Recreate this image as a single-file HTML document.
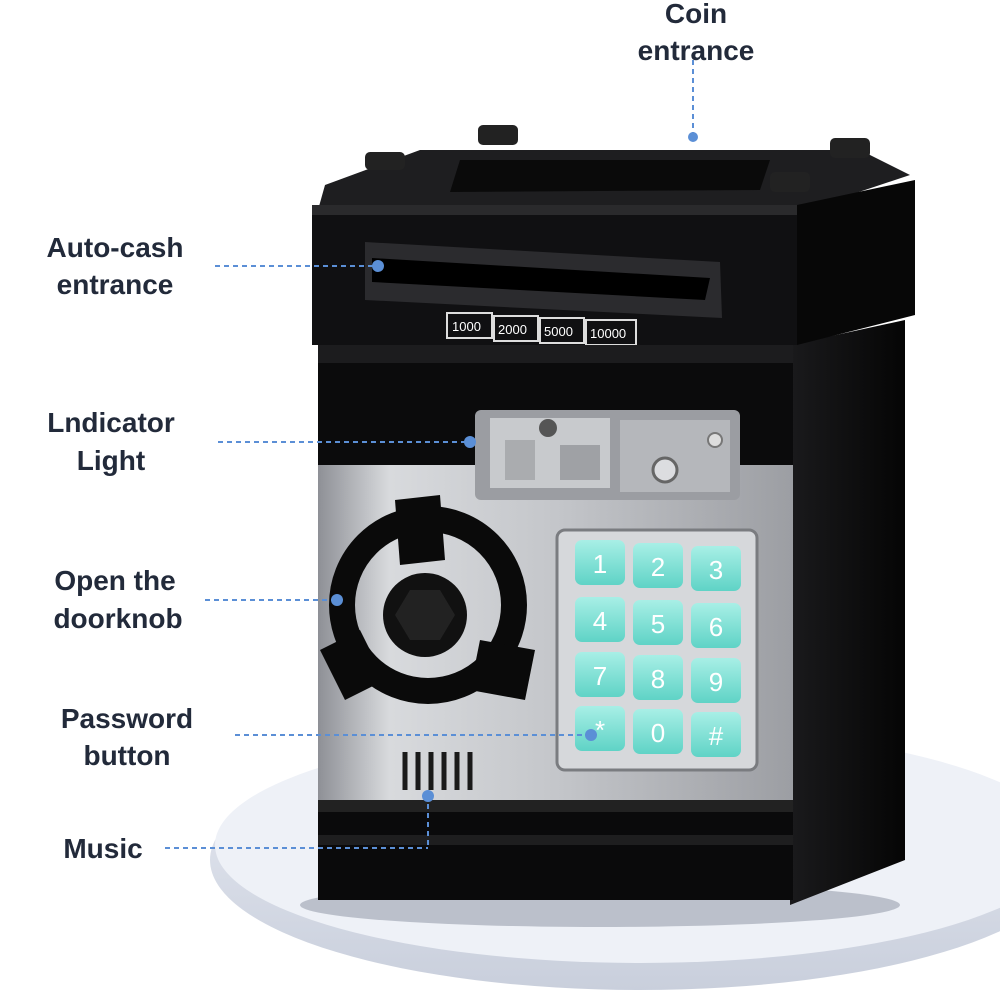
<!DOCTYPE html>
<html><head><meta charset="utf-8"><style>
html,body{margin:0;padding:0;background:#fff;}
svg{display:block;}
text{font-family:"Liberation Sans",sans-serif;}
</style></head><body>
<svg width="1000" height="1000" viewBox="0 0 1000 1000" xmlns="http://www.w3.org/2000/svg">
<defs>
<linearGradient id="ped" x1="0" y1="0" x2="0" y2="1"><stop offset="0" stop-color="#e9ecf4"/><stop offset="1" stop-color="#c9cfdc"/></linearGradient>
<linearGradient id="silver" x1="0" y1="0" x2="1" y2="0"><stop offset="0" stop-color="#8e9096"/><stop offset="0.15" stop-color="#d8dadd"/><stop offset="0.5" stop-color="#c4c6ca"/><stop offset="1" stop-color="#9c9ea3"/></linearGradient>
<linearGradient id="side" x1="0" y1="0" x2="1" y2="0"><stop offset="0" stop-color="#1a1a1c"/><stop offset="1" stop-color="#050505"/></linearGradient>
<linearGradient id="btn" x1="0" y1="0" x2="0" y2="1"><stop offset="0" stop-color="#a8efe6"/><stop offset="1" stop-color="#5fd3c6"/></linearGradient>
</defs>
<ellipse cx="640" cy="860" rx="430" ry="130" fill="url(#ped)"/>
<ellipse cx="640" cy="845" rx="425" ry="118" fill="#eef1f7"/>
<ellipse cx="600" cy="905" rx="300" ry="22" fill="#9aa0ad" opacity="0.6"/>
<polygon points="790,345 905,320 905,860 790,905" fill="url(#side)"/>
<rect x="318" y="340" width="475" height="560" fill="#0b0b0c"/>
<polygon points="325,185 420,150 860,150 910,175 790,215 318,210" fill="#1e1e20"/>
<polygon points="460,160 770,160 760,190 450,192" fill="#0a0a0a"/>
<rect x="365" y="152" width="40" height="18" rx="5" fill="#222"/>
<rect x="478" y="125" width="40" height="20" rx="5" fill="#222"/>
<rect x="830" y="138" width="40" height="20" rx="5" fill="#222"/>
<rect x="770" y="172" width="40" height="20" rx="5" fill="#222"/>
<rect x="312" y="205" width="485" height="140" fill="#101012"/>
<polygon points="797,205 915,180 915,315 797,345" fill="#070707"/>
<rect x="312" y="205" width="485" height="10" fill="#2a2a2c"/>
<polygon points="365,242 720,262 722,318 365,300" fill="#2b2b2e"/>
<polygon points="372,258 710,278 705,300 372,282" fill="#000"/>
<g font-size="13" fill="#fff">
<rect x="447" y="313" width="45" height="25" fill="none" stroke="#ddd" stroke-width="2"/><text x="452" y="331">1000</text>
<rect x="494" y="316" width="44" height="25" fill="none" stroke="#ddd" stroke-width="2"/><text x="498" y="334">2000</text>
<rect x="540" y="318" width="44" height="25" fill="none" stroke="#ddd" stroke-width="2"/><text x="544" y="336">5000</text>
<rect x="586" y="320" width="50" height="25" fill="none" stroke="#ddd" stroke-width="2"/><text x="590" y="338">10000</text>
</g>
<rect x="318" y="345" width="475" height="18" fill="#1c1c1e"/>
<rect x="318" y="465" width="475" height="335" fill="url(#silver)"/>
<!-- indicator panel drawn over silver -->
<rect x="475" y="410" width="265" height="90" rx="6" fill="#9b9da2"/>
<rect x="490" y="418" width="120" height="70" fill="#c8cacd"/>
<rect x="620" y="420" width="110" height="72" fill="#b5b7bb"/>
<rect x="505" y="440" width="30" height="40" fill="#aaacaf"/>
<rect x="560" y="445" width="40" height="35" fill="#9fa1a5"/>
<circle cx="548" cy="428" r="9" fill="#555"/>
<circle cx="665" cy="470" r="12" fill="#dcdde0" stroke="#666" stroke-width="3"/>
<circle cx="715" cy="440" r="7" fill="#ddd" stroke="#777" stroke-width="2"/>
<rect x="557" y="530" width="200" height="240" rx="8" fill="#d6d8db" stroke="#7a7c80" stroke-width="3"/>
<g font-size="26" fill="#fff" text-anchor="middle">
<rect x="575" y="540" width="50" height="45" rx="7" fill="url(#btn)"/><text x="600" y="573">1</text>
<rect x="633" y="543" width="50" height="45" rx="7" fill="url(#btn)"/><text x="658" y="576">2</text>
<rect x="691" y="546" width="50" height="45" rx="7" fill="url(#btn)"/><text x="716" y="579">3</text>
<rect x="575" y="597" width="50" height="45" rx="7" fill="url(#btn)"/><text x="600" y="630">4</text>
<rect x="633" y="600" width="50" height="45" rx="7" fill="url(#btn)"/><text x="658" y="633">5</text>
<rect x="691" y="603" width="50" height="45" rx="7" fill="url(#btn)"/><text x="716" y="636">6</text>
<rect x="575" y="652" width="50" height="45" rx="7" fill="url(#btn)"/><text x="600" y="685">7</text>
<rect x="633" y="655" width="50" height="45" rx="7" fill="url(#btn)"/><text x="658" y="688">8</text>
<rect x="691" y="658" width="50" height="45" rx="7" fill="url(#btn)"/><text x="716" y="691">9</text>
<rect x="575" y="706" width="50" height="45" rx="7" fill="url(#btn)"/><text x="600" y="739">*</text>
<rect x="633" y="709" width="50" height="45" rx="7" fill="url(#btn)"/><text x="658" y="742">0</text>
<rect x="691" y="712" width="50" height="45" rx="7" fill="url(#btn)"/><text x="716" y="745">#</text>
</g>
<circle cx="428" cy="605" r="86" fill="none" stroke="#0a0a0a" stroke-width="26"/>
<polygon points="395,500 440,495 445,560 400,565" fill="#0a0a0a"/>
<polygon points="320,650 360,630 385,680 345,700" fill="#0a0a0a"/>
<polygon points="480,640 535,650 525,700 470,690" fill="#0a0a0a"/>
<circle cx="425" cy="615" r="42" fill="#111"/>
<polygon points="410,590 440,590 455,615 440,640 410,640 395,615" fill="#222"/>
<rect x="318" y="800" width="475" height="100" fill="#0a0a0b"/>
<rect x="318" y="800" width="475" height="12" fill="#222"/>
<rect x="318" y="835" width="475" height="10" fill="#1e1e1f"/>
<g stroke="#1a1a1a" stroke-width="5"><line x1="405" y1="752" x2="405" y2="790"/><line x1="418" y1="752" x2="418" y2="790"/><line x1="431" y1="752" x2="431" y2="790"/><line x1="444" y1="752" x2="444" y2="790"/><line x1="457" y1="752" x2="457" y2="790"/><line x1="470" y1="752" x2="470" y2="790"/></g>
<g stroke="#5b8fd6" stroke-width="2" stroke-dasharray="5,4" fill="none">
<line x1="693" y1="60" x2="693" y2="135"/>
<line x1="215" y1="266" x2="375" y2="266"/>
<line x1="218" y1="442" x2="468" y2="442"/>
<line x1="205" y1="600" x2="335" y2="600"/>
<line x1="235" y1="735" x2="590" y2="735"/>
<line x1="165" y1="848" x2="428" y2="848"/>
<line x1="428" y1="795" x2="428" y2="848"/>
</g>
<g fill="#5b8fd6">
<circle cx="693" cy="137" r="5"/><circle cx="378" cy="266" r="6"/><circle cx="470" cy="442" r="6"/>
<circle cx="337" cy="600" r="6"/><circle cx="591" cy="735" r="6"/><circle cx="428" cy="796" r="6"/>
</g>
<g font-size="28" font-weight="bold" fill="#222a3a" text-anchor="middle">
<text x="696" y="23">Coin</text><text x="696" y="60">entrance</text>
<text x="115" y="257">Auto-cash</text><text x="115" y="294">entrance</text>
<text x="111" y="432">Lndicator</text><text x="111" y="470">Light</text>
<text x="115" y="590">Open the</text><text x="118" y="628">doorknob</text>
<text x="127" y="728">Password</text><text x="127" y="765">button</text>
<text x="103" y="858">Music</text>
</g>
</svg>
</body></html>
